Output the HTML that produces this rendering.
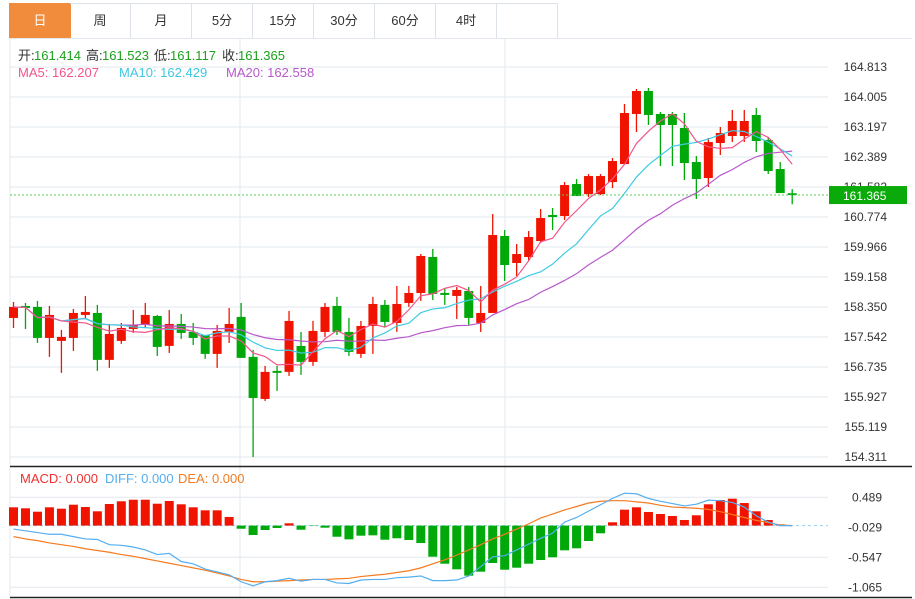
<!DOCTYPE html>
<html><head><meta charset="utf-8">
<style>
body{margin:0;background:#fff;width:915px;height:599px;overflow:hidden;font-family:"Liberation Sans","Noto Sans CJK SC",sans-serif;}
#tabs{position:absolute;left:9px;top:3px;height:35px;}
.tab{position:absolute;top:0;width:60px;height:34px;border:1px solid #dde2e8;border-left:none;line-height:34px;text-align:center;font-size:13px;color:#333;}
.tab.on{background:#f08c3c;color:#fff;border-color:#f08c3c}
svg{position:absolute;left:0;top:0}
</style></head><body>
<div id="tabs">
<div class="tab on" style="left:0;border-left:1px solid #f08c3c">日</div>
<div class="tab" style="left:61px">周</div>
<div class="tab" style="left:122px">月</div>
<div class="tab" style="left:183px">5分</div>
<div class="tab" style="left:244px">15分</div>
<div class="tab" style="left:305px">30分</div>
<div class="tab" style="left:366px">60分</div>
<div class="tab" style="left:427px">4时</div>
<div class="tab" style="left:488px"></div>
</div>
<svg id="chart" width="915" height="599"></svg>
<script>
const opens=[158.055,158.378,158.352,157.517,157.437,157.517,158.136,158.190,156.926,157.437,157.759,157.867,158.109,157.302,157.894,157.679,157.598,157.087,157.679,158.083,157.007,155.874,156.630,156.603,157.302,156.872,157.679,158.378,157.679,157.087,157.840,158.406,157.921,158.459,158.728,159.697,158.728,158.648,158.782,157.921,158.190,160.262,159.535,159.697,160.127,160.828,160.800,161.662,161.391,161.391,161.715,162.200,163.548,164.167,163.548,163.548,163.170,162.254,161.823,162.766,162.955,162.955,163.521,162.847,162.066,161.414];
const highs=[158.486,158.459,158.513,158.378,157.733,158.298,158.648,158.406,157.894,157.921,158.271,158.459,158.136,158.271,158.163,157.921,157.598,157.867,158.325,158.459,157.195,156.764,156.764,158.244,157.679,157.975,158.459,158.621,158.056,157.975,158.621,158.540,158.917,158.917,159.777,159.912,158.863,158.890,158.890,158.917,160.853,160.423,160.046,160.396,160.988,161.015,161.715,161.796,161.930,161.930,162.362,163.817,164.221,164.248,163.602,163.602,163.575,162.416,162.900,163.197,163.656,163.656,163.709,162.928,162.254,161.523];
const lows=[157.786,157.759,157.383,157.007,156.576,157.168,158.029,156.630,156.711,157.356,157.652,157.786,157.034,157.114,157.491,157.329,156.953,156.711,157.383,156.980,154.311,155.820,156.092,156.495,156.522,156.764,157.545,157.598,157.034,156.980,157.087,157.813,157.679,158.352,158.513,158.540,158.406,158.029,157.867,157.679,158.190,159.051,159.185,159.589,160.073,160.423,160.692,161.338,161.310,161.364,161.554,162.200,163.063,163.252,162.147,162.147,161.770,161.258,161.581,162.443,162.793,162.793,162.524,161.931,161.418,161.117];
const closes=[158.352,158.325,157.517,158.136,157.544,158.190,158.217,156.926,157.625,157.786,157.867,158.136,157.275,157.894,157.652,157.517,157.087,157.706,157.894,156.980,155.901,156.603,156.576,157.975,156.872,157.706,158.352,157.679,157.141,157.840,158.432,157.948,158.432,158.728,159.724,158.702,158.675,158.809,158.056,158.190,160.289,159.481,159.777,160.235,160.746,160.773,161.635,161.338,161.877,161.877,162.281,163.574,164.167,163.521,163.252,163.252,162.227,161.796,162.793,163.036,163.359,163.359,162.820,162.012,161.418,161.365];
const macdHist=[0.316,0.299,0.240,0.316,0.292,0.361,0.321,0.247,0.373,0.420,0.447,0.447,0.378,0.425,0.368,0.316,0.264,0.264,0.149,-0.054,-0.162,-0.076,-0.041,0.040,-0.071,-0.007,-0.036,-0.192,-0.237,-0.174,-0.168,-0.244,-0.219,-0.249,-0.301,-0.537,-0.658,-0.755,-0.865,-0.796,-0.646,-0.762,-0.727,-0.658,-0.594,-0.547,-0.427,-0.392,-0.266,-0.133,0.057,0.275,0.316,0.235,0.200,0.166,0.097,0.178,0.368,0.442,0.465,0.390,0.247,0.097,0.022,0];
const diffVals=[-0.06,-0.09,-0.12,-0.15,-0.15,-0.19,-0.23,-0.24,-0.33,-0.34,-0.37,-0.42,-0.50,-0.48,-0.62,-0.66,-0.75,-0.80,-0.85,-0.97,-1.04,-0.97,-0.95,-0.91,-0.96,-0.93,-0.93,-0.99,-1.00,-0.94,-0.93,-0.93,-0.90,-0.89,-0.87,-0.95,-0.95,-0.94,-0.87,-0.71,-0.54,-0.52,-0.42,-0.32,-0.22,-0.13,0.06,0.14,0.25,0.36,0.47,0.56,0.55,0.47,0.42,0.38,0.34,0.37,0.44,0.43,0.40,0.32,0.17,0.06,0.00,0.00];
const deaVals=[-0.19,-0.23,-0.26,-0.30,-0.33,-0.36,-0.40,-0.43,-0.46,-0.50,-0.53,-0.57,-0.61,-0.65,-0.69,-0.73,-0.77,-0.82,-0.87,-0.93,-0.97,-0.97,-0.96,-0.95,-0.94,-0.93,-0.93,-0.92,-0.91,-0.88,-0.86,-0.84,-0.81,-0.78,-0.73,-0.66,-0.59,-0.51,-0.42,-0.33,-0.23,-0.15,-0.06,0.03,0.13,0.20,0.27,0.33,0.39,0.42,0.43,0.43,0.41,0.39,0.35,0.32,0.31,0.30,0.28,0.24,0.19,0.14,0.09,0.05,0.01,0.00];
const priceTicks=["164.813","164.005","163.197","162.389","161.582","160.774","159.966","159.158","158.350","157.542","156.735","155.927","155.119","154.311"];
const macdTicks=["0.489","-0.029","-0.547","-1.065"];
const lastPrice=161.365;

const NS="http://www.w3.org/2000/svg";
const svg=document.getElementById('chart');
function mk(tag,attrs,parent){const e=document.createElementNS(NS,tag);for(const k in attrs)e.setAttribute(k,attrs[k]);(parent||svg).appendChild(e);return e;}
const X=i=>13.5+i*11.98;
const PY=v=>67+(164.813-v)*(390/10.502);
const MY=v=>525.6-v*57.9;
const RED="#f01400",GREEN="#00a80a";

let g=mk('g',{});

priceTicks.forEach(t=>{const y=PY(parseFloat(t));mk('line',{x1:10,x2:828,y1:y,y2:y,stroke:'#e3e8ee','stroke-width':1},g);});
macdTicks.forEach(t=>{const v=parseFloat(t);if(Math.abs(v+0.029)<0.01)return;const y=MY(v);mk('line',{x1:10,x2:828,y1:y,y2:y,stroke:'#e3e8ee'},g);});
[240,505].forEach(x=>{mk('line',{x1:x,x2:x,y1:38,y2:597,stroke:'#e3e8ee'},g);});
mk('line',{x1:10,x2:10,y1:38,y2:597,stroke:'#e3e8ee'},g);
mk('line',{x1:9,x2:912,y1:38.5,y2:38.5,stroke:'#e3e8ee'},g);
mk('line',{x1:10,x2:912,y1:466.5,y2:466.5,stroke:'#222','stroke-width':1.5},g);
mk('line',{x1:10,x2:912,y1:597.5,y2:597.5,stroke:'#222','stroke-width':1.5},g);

priceTicks.forEach(t=>{const e=mk('text',{x:887,y:PY(parseFloat(t))+4,'font-size':12,fill:'#333','text-anchor':'end'});e.textContent=t;

});
macdTicks.forEach(t=>{const e=mk('text',{x:882,y:MY(parseFloat(t))+4,'font-size':12,fill:'#333','text-anchor':'end'});e.textContent=t;

});

const cg=mk('g',{});
for(let i=0;i<opens.length;i++){
 const up=closes[i]>=opens[i];const col=up?RED:GREEN;const x=X(i);
 const c=mk('g',{},cg);
 
 
 mk('line',{x1:x,x2:x,y1:PY(highs[i]),y2:PY(lows[i]),stroke:col,'stroke-width':1.3},c);
 const t=PY(Math.max(opens[i],closes[i])),b=PY(Math.min(opens[i],closes[i]));
 mk('rect',{x:x-4.5,y:t,width:9,height:Math.max(1.5,b-t),fill:col},c);
}
function ma(n){return closes.map((_,i)=>{const s=closes.slice(Math.max(0,i-n+1),i+1);return s.reduce((a,b)=>a+b,0)/s.length;});}
[[20,'#b858cc','ma20-line'],[10,'#3ecbe3','ma10-line'],[5,'#f2558c','ma5-line']].forEach(([n,col,name])=>{
 const m=ma(n);const p=mk('polyline',{points:m.map((v,i)=>X(i)+','+PY(v)).join(' '),fill:'none',stroke:col,'stroke-width':1.2});
 
 
});
const ly=PY(lastPrice);
mk('line',{x1:10,x2:828,y1:ly,y2:ly,stroke:'#5cc85c','stroke-dasharray':'2,2','stroke-width':1});
const lb=mk('rect',{x:829,y:ly-9,width:78,height:18,fill:'#0aaa0a'});

const lt=mk('text',{x:843,y:ly+5,'font-size':12,fill:'#fff'});lt.textContent=lastPrice.toFixed(3);


mk('line',{x1:10,x2:828,y1:MY(0),y2:MY(0),stroke:'#9ad0ee','stroke-dasharray':'3,3'});
const hg=mk('g',{});
macdHist.forEach((v,i)=>{const y0=MY(0),y1=MY(v);const r=mk('rect',{x:X(i)-4.5,y:Math.min(y0,y1),width:9,height:Math.abs(y1-y0),fill:v>=0?RED:GREEN},hg);
 
 });
[[deaVals,'#f47b20','dea-line'],[diffVals,'#54aef0','diff-line']].forEach(([arr,col,name])=>{
 const p=mk('polyline',{points:arr.map((v,i)=>X(i)+','+MY(v)).join(' '),fill:'none',stroke:col,'stroke-width':1.2});
 
 
});

function txt(x,y,s,col,name){const e=mk('text',{x:x,y:y,'font-size':13,fill:col});e.textContent=s;return e;}
const info=[['开:',18,'#333'],['161.414',34,'#1aa01a'],['高:',86,'#333'],['161.523',102,'#1aa01a'],['低:',154,'#333'],['161.117',170,'#1aa01a'],['收:',222,'#333'],['161.365',238,'#1aa01a']];
info.forEach(a=>txt(a[1],60,a[0],a[2],'ohlc-info'));
txt(18,77,'MA5: 162.207','#f2558c','ma5-legend');
txt(119,77,'MA10: 162.429','#3ec8e0','ma10-legend');
txt(226,77,'MA20: 162.558','#b858cc','ma20-legend');
txt(20,483,'MACD: 0.000','#f03030','macd-legend');
txt(105,483,'DIFF: 0.000','#54aef0','diff-legend');
txt(178,483,'DEA: 0.000','#f47b20','dea-legend');
</script>
</body></html>
